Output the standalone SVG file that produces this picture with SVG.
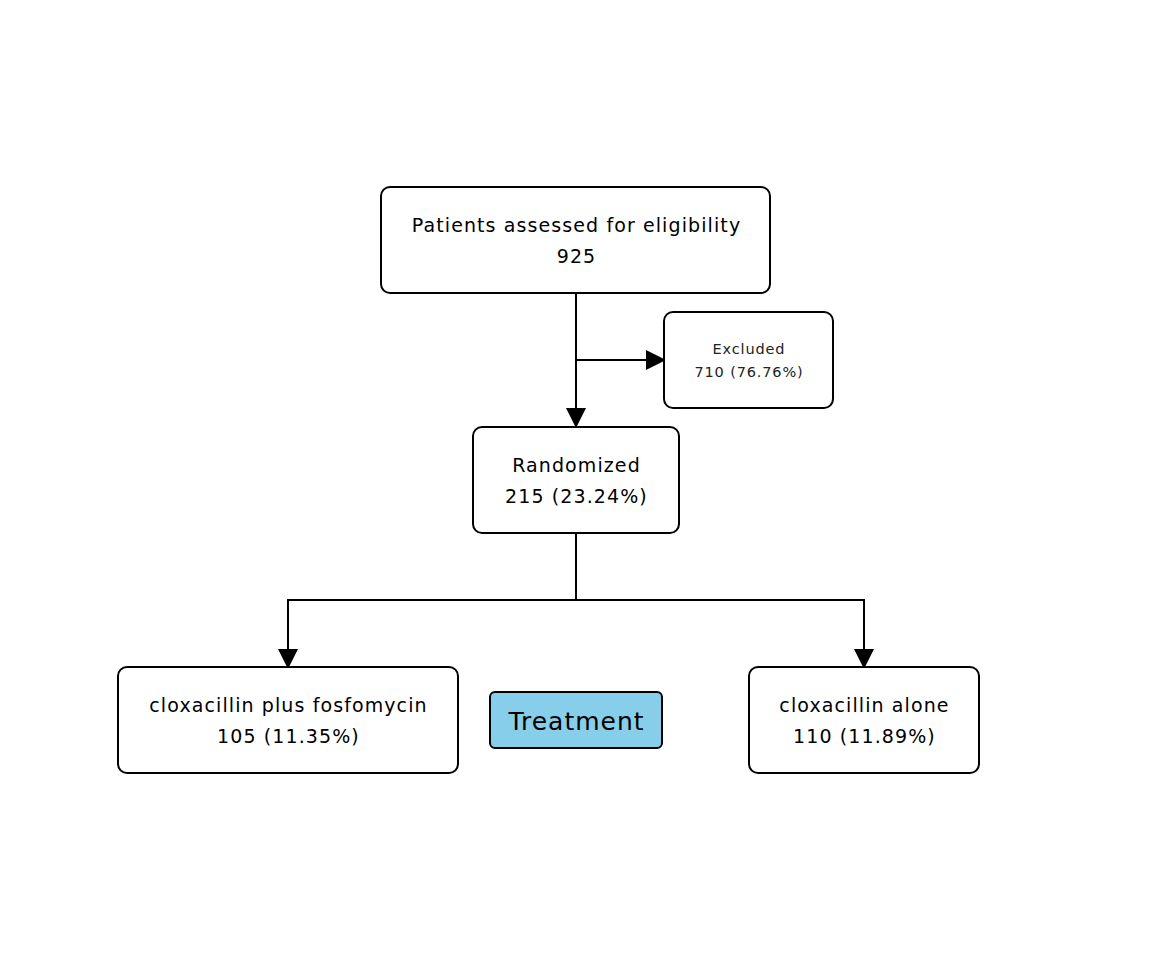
<svg xmlns="http://www.w3.org/2000/svg" width="1152" height="960" viewBox="0 0 1152 960">
<style>
.box{fill:#fff;stroke:#000;stroke-width:2}
.t{font-family:"DejaVu Sans",sans-serif;text-anchor:middle;fill:#000}
.m{font-size:19px;letter-spacing:1.1px}
.s{font-size:14.5px;fill:#222;letter-spacing:0.85px}
.c{fill:none;stroke:#000;stroke-width:2}
</style>
<defs>
<marker id="ah" markerUnits="userSpaceOnUse" markerWidth="20" markerHeight="20" refX="19" refY="10" orient="auto" viewBox="0 0 20 20">
<path d="M0,0 L20,10 L0,20 Z" fill="#000"/>
</marker>
</defs>
<rect width="1152" height="960" fill="#fff"/>
<g id="connectors">
<path class="c" d="M576,293 V427" marker-end="url(#ah)"/>
<path class="c" d="M576,360 H665" marker-end="url(#ah)"/>
<path class="c" d="M576,533 V600 H288 V668" marker-end="url(#ah)"/>
<path class="c" d="M576,600 H864 V668" marker-end="url(#ah)"/>
</g>
<g id="assessed">
<rect class="box" x="381" y="187" width="389" height="106" rx="9"/>
<text class="t m" x="576.5" y="232">Patients assessed for eligibility</text>
<text class="t m" x="576.5" y="263">925</text>
</g>
<g id="excluded">
<rect class="box" x="664" y="312" width="169" height="96" rx="9"/>
<text class="t s" x="749" y="354">Excluded</text>
<text class="t s" x="749" y="377">710 (76.76%)</text>
</g>
<g id="randomized">
<rect class="box" x="473" y="427" width="206" height="106" rx="9"/>
<text class="t m" x="576.5" y="472">Randomized</text>
<text class="t m" x="576.5" y="503">215 (23.24%)</text>
</g>
<g id="arm1">
<rect class="box" x="118" y="667" width="340" height="106" rx="9"/>
<text class="t m" x="288.5" y="712">cloxacillin plus fosfomycin</text>
<text class="t m" x="288.5" y="743">105 (11.35%)</text>
</g>
<g id="treatment">
<rect x="490" y="692" width="172" height="56" rx="5" fill="#87CEEB" stroke="#000" stroke-width="2"/>
<text class="t" x="576.5" y="730" font-size="25" letter-spacing="1">Treatment</text>
</g>
<g id="arm2">
<rect class="box" x="749" y="667" width="230" height="106" rx="9"/>
<text class="t m" x="864.5" y="712">cloxacillin alone</text>
<text class="t m" x="864.5" y="743">110 (11.89%)</text>
</g>
</svg>
